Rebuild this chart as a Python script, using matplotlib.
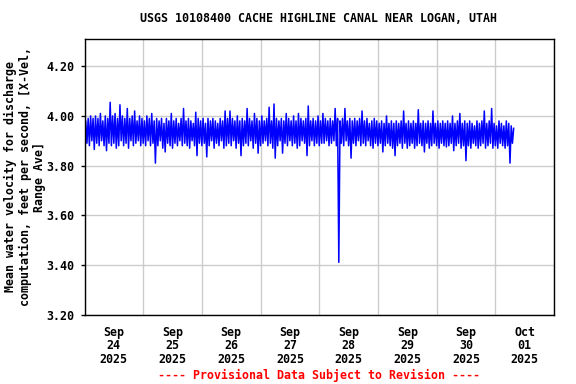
import matplotlib
matplotlib.use("Agg")
import matplotlib.pyplot as plt
import numpy as np
import pandas as pd

# ---- data (half-hourly values) ----
start_time = "2025-09-24 00:00"
step_minutes = 30
velocity = [
    3.92, 3.98, 3.89, 3.99, 3.88, 4.00, 3.90, 3.99, 3.865, 4.00, 3.89, 3.99,
    3.88, 4.01, 3.90, 3.98, 3.88, 4.00, 3.86, 3.99, 3.89, 4.055, 3.88, 4.00,
    3.89, 4.01, 3.87, 3.99, 3.88, 4.045, 3.90, 4.00, 3.88, 3.99, 3.89, 4.03,
    3.87, 3.99, 3.90, 4.00, 3.88, 4.02, 3.89, 3.98, 3.90, 4.00, 3.88, 3.99,
    3.89, 3.98, 3.88, 4.00, 3.90, 3.99, 3.88, 4.01, 3.89, 3.98, 3.81, 3.99,
    3.88, 3.98, 3.90, 3.99, 3.87, 3.97, 3.855, 3.99, 3.89, 3.98, 3.88, 4.01,
    3.87, 3.98, 3.89, 3.99, 3.88, 3.97, 3.90, 3.99, 3.88, 4.03, 3.89, 3.98,
    3.88, 3.99, 3.87, 3.98, 3.90, 3.97, 3.88, 4.015, 3.84, 3.99, 3.89, 3.98,
    3.88, 3.99, 3.89, 3.97, 3.835, 3.99, 3.88, 3.98, 3.90, 3.99, 3.87, 3.98,
    3.89, 3.97, 3.88, 3.99, 3.90, 3.98, 3.87, 4.02, 3.88, 3.99, 3.89, 4.02,
    3.88, 3.99, 3.90, 3.98, 3.87, 4.00, 3.89, 3.98, 3.84, 3.99, 3.88, 3.98,
    3.89, 4.03, 3.88, 3.99, 3.90, 3.98, 3.87, 4.01, 3.89, 3.99, 3.85, 3.98,
    3.88, 4.00, 3.89, 3.98, 3.90, 3.99, 3.88, 4.035, 3.89, 3.98, 3.87, 4.048,
    3.83, 3.99, 3.88, 3.98, 3.90, 3.99, 3.85, 3.98, 3.89, 4.01, 3.88, 3.99,
    3.90, 3.98, 3.88, 4.00, 3.89, 3.98, 3.87, 4.01, 3.88, 3.99, 3.90, 3.98,
    3.89, 3.99, 3.84, 4.04, 3.88, 3.98, 3.90, 3.99, 3.88, 3.98, 3.89, 4.00,
    3.88, 3.98, 3.89, 4.01, 3.89, 3.99, 3.90, 3.98, 3.88, 3.99, 3.89, 3.98,
    3.90, 4.03, 3.88, 3.99, 3.41, 3.98, 3.89, 3.99, 3.88, 4.03, 3.90, 3.98,
    3.88, 3.99, 3.83, 3.98, 3.89, 3.99, 3.88, 3.98, 3.90, 3.99, 3.88, 4.02,
    3.89, 3.98, 3.88, 3.99, 3.90, 3.97, 3.88, 3.98, 3.87, 3.99, 3.89, 3.98,
    3.88, 3.97, 3.89, 3.98, 3.855, 3.97, 3.88, 4.00, 3.89, 3.97, 3.88, 3.98,
    3.87, 3.97, 3.84, 3.98, 3.88, 3.97, 3.89, 3.98, 3.87, 4.02, 3.89, 3.97,
    3.87, 3.98, 3.88, 3.97, 3.89, 3.98, 3.87, 3.97, 3.88, 4.025, 3.89, 3.97,
    3.88, 3.98, 3.855, 3.97, 3.89, 3.98, 3.87, 3.97, 3.88, 4.02, 3.89, 3.97,
    3.88, 3.98, 3.87, 3.97, 3.89, 3.98, 3.88, 3.97, 3.875, 3.98, 3.88, 3.97,
    3.89, 4.00, 3.86, 3.97, 3.88, 3.98, 3.89, 4.01, 3.87, 3.97, 3.88, 3.98,
    3.82, 3.97, 3.88, 3.98, 3.87, 3.97, 3.89, 3.96, 3.88, 3.98, 3.87, 3.97,
    3.88, 3.98, 3.89, 4.02, 3.87, 3.97, 3.88, 3.98, 3.89, 4.03, 3.87, 3.97,
    3.88, 3.96, 3.87, 3.98, 3.89, 3.97, 3.88, 3.96, 3.87, 3.98, 3.88, 3.97,
    3.81, 3.96, 3.89, 3.95,
]
day_labels = ["Sep\n24\n2025", "Sep\n25\n2025", "Sep\n26\n2025", "Sep\n27\n2025",
              "Sep\n28\n2025", "Sep\n29\n2025", "Sep\n30\n2025", "Oct\n01\n2025"]
y_ticks = [3.20, 3.40, 3.60, 3.80, 4.00, 4.20]
title = "USGS 10108400 CACHE HIGHLINE CANAL NEAR LOGAN, UTAH"
ylabel = "Mean water velocity for discharge\ncomputation, feet per second, [X-Vel,\nRange Ave]"
footer = "---- Provisional Data Subject to Revision ----"

times = pd.date_range(start_time, periods=len(velocity), freq=f"{step_minutes}min")

FONT = "DejaVu Sans Mono"
FS = 8.4
fig = plt.figure(figsize=(5.76, 3.84), dpi=100)
ax = fig.add_axes([84.5/576, 1-314.5/384, (554-84.5)/576, (314.5-39)/384])

ax.plot(times, velocity, color="#0000ff", linewidth=1.1)

x0 = pd.Timestamp("2025-09-24")
x1 = pd.Timestamp("2025-10-02")
ax.set_xlim(x0, x1)
ax.set_ylim(3.20, 4.31)

days = pd.date_range(x0, x1, freq="D")
ax.set_xticks(days)
ax.set_xticklabels([])
ax.tick_params(axis="x", which="major", length=0)
noons = days[:-1] + pd.Timedelta(hours=12)
ax.set_xticks(noons, minor=True)
ax.set_xticklabels(day_labels, minor=True, fontfamily=FONT, fontweight="bold",
                   fontsize=FS, linespacing=1.05)
ax.tick_params(axis="x", which="minor", length=0, pad=8)

ax.set_yticks(y_ticks)
ax.set_yticklabels([f"{v:.2f}" for v in y_ticks], fontfamily=FONT,
                   fontweight="bold", fontsize=FS)
ax.tick_params(axis="y", length=3, width=1, pad=4)

ax.grid(True, which="major", color="#cccccc", linewidth=1)
ax.set_axisbelow(True)
for s in ax.spines.values():
    s.set_linewidth(1)
    s.set_color("black")

fig.text(25/576, 1-176.5/384, ylabel, rotation=90, ha="center", va="center",
         fontfamily=FONT, fontweight="bold", fontsize=FS, linespacing=1.1,
         multialignment="center")
fig.text(319/576, 1-19/384, title, ha="center", va="center",
         fontfamily=FONT, fontweight="bold", fontsize=FS)
fig.text(319/576, 1-375/384, footer, ha="center", va="center",
         fontfamily=FONT, fontweight="bold", fontsize=FS, color="red")

fig.savefig("out.png", dpi=100)
